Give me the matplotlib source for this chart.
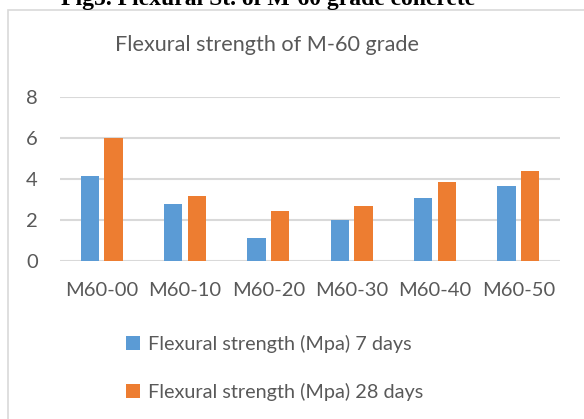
import numpy as np
import matplotlib
matplotlib.use("Agg")
import matplotlib.pyplot as plt
from matplotlib.patches import Rectangle

# flexural strength (MPa) per mix
mixes = ["M60-00", "M60-10", "M60-20", "M60-30", "M60-40", "M60-50"]
strength_7d = [4.11, 2.75, 1.14, 1.98, 3.06, 3.67]
strength_28d = [5.98, 3.15, 2.45, 2.66, 3.86, 4.38]
series_names = ["Flexural strength (Mpa) 7 days", "Flexural strength (Mpa) 28 days"]
y_ticks = [0, 2, 4, 6, 8]

blue = "#5B9BD5"
orange = "#ED7D31"
grey_txt = "#595959"
grid_col = "#D9D9D9"

plt.rcParams["font.family"] = ["Lato", "DejaVu Sans"]

W, H = 584, 419
fig = plt.figure(figsize=(W / 100, H / 100), dpi=100)

# chart frame (left and top edges visible)
fig.add_artist(Rectangle((8 / W, -0.1), 1.2, 1 - 10 / H + 0.1,
                         transform=fig.transFigure, fill=False,
                         edgecolor=grid_col, lw=1.2))

# document caption above the chart, runs off the top of the image
fig.text(268 / W, 1 - 5 / H, "Fig5. Flexural St. of M-60 grade concrete",
         family="Liberation Serif", weight="bold", fontsize=17,
         ha="center", va="baseline", color="black")

ax = fig.add_axes([60 / W, (H - 261) / H, 500 / W, (261 - 96.5) / H])
x = np.arange(len(mixes))
bw = 0.22
off = 0.142
ax.bar(x - off, strength_7d, bw, color=blue, label=series_names[0], zorder=3)
ax.bar(x + off, strength_28d, bw, color=orange, label=series_names[1], zorder=3)

ax.set_xlim(-0.5, len(mixes) - 0.5)
ax.set_ylim(0, 8)
ax.set_yticks(y_ticks)
ax.set_xticks(x)
ax.set_xticklabels(mixes)
ax.yaxis.grid(True, color=grid_col, lw=1.5, zorder=0)
for s in ax.spines.values():
    s.set_visible(False)
ax.tick_params(axis="both", length=0, labelsize=14.5, colors=grey_txt)
ax.tick_params(axis="x", pad=15)
ax.tick_params(axis="y", pad=16)
ax.set_facecolor("none")

fig.text(267 / W, 1 - 45 / H, "Flexural strength of M-60 grade",
         fontsize=15.6, color=grey_txt, ha="center", va="center")

fig.legend(loc="upper left", bbox_to_anchor=(118 / W, 1 - 327 / H),
           frameon=False, fontsize=14.3, labelcolor=grey_txt,
           handlelength=0.7, handleheight=0.7, handletextpad=0.4,
           labelspacing=1.5, borderaxespad=0)

fig.savefig("out.png", dpi=100)
